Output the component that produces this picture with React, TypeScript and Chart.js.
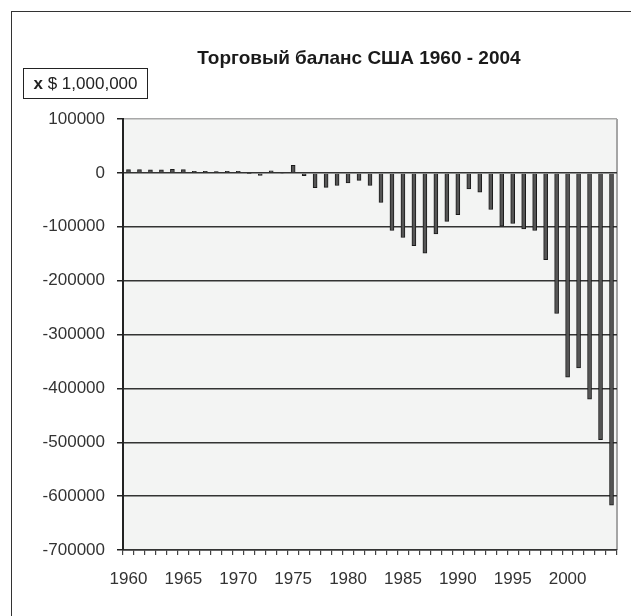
import React, { useEffect, useRef } from 'react';
import { Chart, registerables } from 'chart.js';

Chart.register(...registerables);

const titleText = 'Торговый баланс США 1960 - 2004';
const unitPrefix = 'x';
const unitValue = '$ 1,000,000';

const years = [
  '1960', '1961', '1962', '1963', '1964', '1965', '1966', '1967', '1968', '1969',
  '1970', '1971', '1972', '1973', '1974', '1975', '1976', '1977', '1978', '1979',
  '1980', '1981', '1982', '1983', '1984', '1985', '1986', '1987', '1988', '1989',
  '1990', '1991', '1992', '1993', '1994', '1995', '1996', '1997', '1998', '1999',
  '2000', '2001', '2002', '2003', '2004',
];

const balance = [
  6000, 6000, 5500, 5500, 6500, 6000, 3000, 3000, 2500, 3000,
  3000, -1000, -4500, 4000, -1500, 14000, -5000, -27500, -27000, -23500,
  -18500, -14000, -23500, -55000, -107000, -120000, -135000, -149000, -113500, -90000,
  -77500, -30000, -36000, -68000, -99000, -94000, -104000, -107000, -161000, -261000,
  -379000, -362000, -420000, -495000, -617000,
];

const xLabelYears = ['1960', '1965', '1970', '1975', '1980', '1985', '1990', '1995', '2000'];
const yMin = -700000;
const yMax = 100000;
const yStep = 100000;

const FONT = "'Liberation Sans', Arial, sans-serif";

const plotDecor = {
  id: 'plotDecor',
  beforeDraw(chart: any) {
    const { ctx, chartArea } = chart;
    const { left, top, right, bottom } = chartArea;
    ctx.save();
    ctx.fillStyle = '#f3f4f3';
    ctx.fillRect(left, top, right - left, bottom - top);
    ctx.strokeStyle = '#a5a5a5';
    ctx.lineWidth = 2;
    ctx.beginPath();
    ctx.moveTo(right, top);
    ctx.lineTo(right, bottom);
    ctx.stroke();
    ctx.restore();
  },
};

export default function App() {
  const ref = useRef<HTMLCanvasElement | null>(null);

  useEffect(() => {
    if (!ref.current) return;
    const chart = new Chart(ref.current, {
      type: 'bar',
      data: {
        labels: years,
        datasets: [
          {
            data: balance,
            backgroundColor: '#555555',
            borderColor: '#1a1a1a',
            borderWidth: 1,
            barThickness: 4,
          },
        ],
      },
      plugins: [plotDecor],
      options: {
        responsive: false,
        animation: false,
        devicePixelRatio: 1,
        layout: { padding: { top: 119, left: 0, right: 14, bottom: 0 } },
        plugins: {
          legend: { display: false },
          tooltip: { enabled: false },
          title: { display: false },
        },
        scales: {
          x: {
            type: 'category',
            offset: true,
            afterFit(scale: any) {
              scale.height = 66;
            },
            grid: {
              offset: true,
              drawOnChartArea: false,
              drawTicks: true,
              tickLength: 5,
              color: '#444',
              lineWidth: 1.2,
            },
            border: { display: true, color: '#333', width: 1.5 },
            ticks: {
              autoSkip: false,
              maxRotation: 0,
              minRotation: 0,
              padding: 14,
              color: '#333',
              font: { family: FONT, size: 17 },
              callback(_v: any, i: number) {
                const y = years[i];
                return xLabelYears.includes(y) ? y : '';
              },
            },
          },
          y: {
            min: yMin,
            max: yMax,
            afterFit(scale: any) {
              scale.width = 123;
            },
            grid: {
              color: (c: any) => (c.tick && c.tick.value === yMax ? '#a8a8a8' : '#333333'),
              tickColor: '#222',
              lineWidth: 1.5,
              tickLength: 6,
            },
            border: { display: true, color: '#222', width: 2 },
            ticks: {
              stepSize: yStep,
              padding: 12,
              color: '#333',
              font: { family: FONT, size: 17 },
              callback: (v: any) => String(v),
            },
          },
        },
      },
    });
    return () => chart.destroy();
  }, []);

  return (
    <div
      style={{
        position: 'fixed',
        left: 0,
        top: 0,
        width: 631,
        height: 616,
        overflow: 'hidden',
        background: '#ffffff',
      }}
    >
      <div
        style={{
          position: 'absolute',
          left: 11,
          top: 11,
          width: 800,
          height: 800,
          border: '1.5px solid #333',
        }}
      />
      <canvas
        ref={ref}
        width={631}
        height={616}
        style={{ position: 'absolute', left: 0, top: 0, width: 631, height: 616 }}
      />
      <div
        style={{
          position: 'absolute',
          left: 359,
          top: 48,
          transform: 'translateX(-50%)',
          whiteSpace: 'nowrap',
          fontFamily: FONT,
          fontWeight: 'bold',
          fontSize: 19,
          lineHeight: '20px',
          color: '#1a1a1a',
        }}
      >
        {titleText}
      </div>
      <div
        style={{
          position: 'absolute',
          left: 23,
          top: 68,
          width: 125,
          height: 31,
          boxSizing: 'border-box',
          border: '1px solid #222',
          fontFamily: FONT,
          fontSize: 17,
          lineHeight: '29px',
          textAlign: 'center',
          color: '#222',
          whiteSpace: 'nowrap',
        }}
      >
        <b>{unitPrefix}</b> {unitValue}
      </div>
    </div>
  );
}
